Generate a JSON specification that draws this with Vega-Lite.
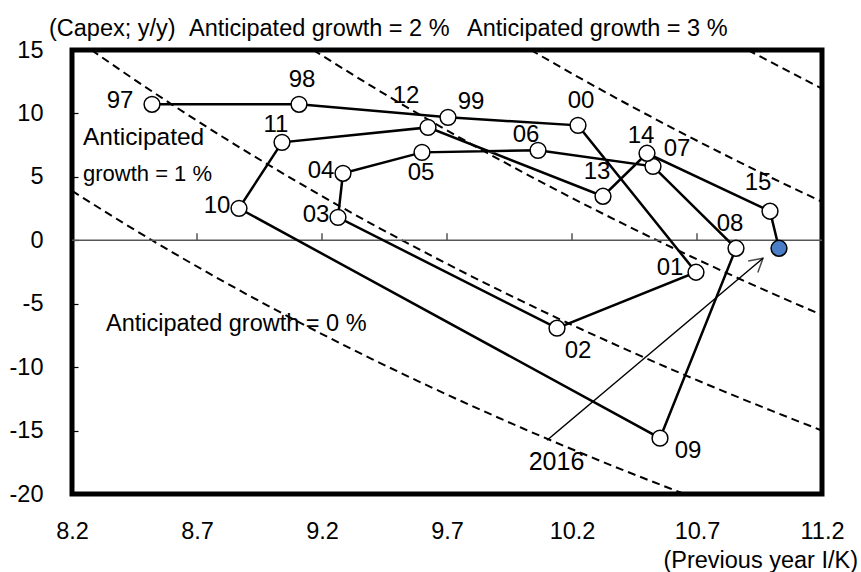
{
  "$schema": "https://vega.github.io/schema/vega-lite/v6.json",
  "width": 750,
  "height": 444,
  "autosize": {"type": "none"},
  "padding": {"left": 72, "top": 50, "right": 39, "bottom": 78},
  "background": "white",
  "config": {
    "view": {"stroke": "black", "strokeWidth": 5},
    "font": "Liberation Sans",
    "text": {"font": "Liberation Sans", "fontSize": 23.5, "color": "black", "baseline": "middle"}
  },
  "datasets": {
    "pts": [
      {"i": 1, "year": "97", "x": 8.52, "y": 10.72},
      {"i": 2, "year": "98", "x": 9.108, "y": 10.72},
      {"i": 3, "year": "99", "x": 9.704, "y": 9.69},
      {"i": 4, "year": "00", "x": 10.224, "y": 9.06},
      {"i": 5, "year": "01", "x": 10.696, "y": -2.52},
      {"i": 6, "year": "02", "x": 10.14, "y": -6.93},
      {"i": 7, "year": "03", "x": 9.264, "y": 1.81},
      {"i": 8, "year": "04", "x": 9.284, "y": 5.28},
      {"i": 9, "year": "05", "x": 9.6, "y": 6.93},
      {"i": 10, "year": "06", "x": 10.064, "y": 7.09},
      {"i": 11, "year": "07", "x": 10.524, "y": 5.83},
      {"i": 12, "year": "08", "x": 10.856, "y": -0.63},
      {"i": 13, "year": "09", "x": 10.552, "y": -15.6},
      {"i": 14, "year": "10", "x": 8.868, "y": 2.52},
      {"i": 15, "year": "11", "x": 9.04, "y": 7.72},
      {"i": 16, "year": "12", "x": 9.624, "y": 8.9},
      {"i": 17, "year": "13", "x": 10.324, "y": 3.47},
      {"i": 18, "year": "14", "x": 10.5, "y": 6.86},
      {"i": 19, "year": "15", "x": 10.992, "y": 2.29},
      {"i": 20, "year": "16", "x": 11.028, "y": -0.63}
    ],
    "curves": [
      {"g": "0", "x": 8.2, "y": 3.9}, {"g": "0", "x": 8.4, "y": 1.43}, {"g": "0", "x": 8.6, "y": -0.93},
      {"g": "0", "x": 8.8, "y": -3.18}, {"g": "0", "x": 9.0, "y": -5.33}, {"g": "0", "x": 9.2, "y": -7.39},
      {"g": "0", "x": 9.4, "y": -9.36}, {"g": "0", "x": 9.6, "y": -11.25}, {"g": "0", "x": 9.8, "y": -13.06},
      {"g": "0", "x": 10.0, "y": -14.8}, {"g": "0", "x": 10.2, "y": -16.47}, {"g": "0", "x": 10.4, "y": -18.08},
      {"g": "0", "x": 10.6, "y": -19.62}, {"g": "0", "x": 10.65, "y": -20.0},
      {"g": "1", "x": 8.278, "y": 15}, {"g": "1", "x": 8.4, "y": 13.33}, {"g": "1", "x": 8.6, "y": 10.7},
      {"g": "1", "x": 8.8, "y": 8.18}, {"g": "1", "x": 9.0, "y": 5.78}, {"g": "1", "x": 9.2, "y": 3.48},
      {"g": "1", "x": 9.4, "y": 1.28}, {"g": "1", "x": 9.6, "y": -0.83}, {"g": "1", "x": 9.8, "y": -2.86},
      {"g": "1", "x": 10.0, "y": -4.8}, {"g": "1", "x": 10.2, "y": -6.67}, {"g": "1", "x": 10.4, "y": -8.46},
      {"g": "1", "x": 10.6, "y": -10.19}, {"g": "1", "x": 10.8, "y": -11.85}, {"g": "1", "x": 11.0, "y": -13.45},
      {"g": "1", "x": 11.2, "y": -15.0},
      {"g": "2", "x": 9.165, "y": 15}, {"g": "2", "x": 9.4, "y": 12.13}, {"g": "2", "x": 9.6, "y": 9.79},
      {"g": "2", "x": 9.8, "y": 7.55}, {"g": "2", "x": 10.0, "y": 5.4}, {"g": "2", "x": 10.2, "y": 3.33},
      {"g": "2", "x": 10.4, "y": 1.35}, {"g": "2", "x": 10.6, "y": -0.57}, {"g": "2", "x": 10.8, "y": -2.41},
      {"g": "2", "x": 11.0, "y": -4.18}, {"g": "2", "x": 11.2, "y": -5.89},
      {"g": "3", "x": 10.035, "y": 15}, {"g": "3", "x": 10.2, "y": 13.14}, {"g": "3", "x": 10.4, "y": 10.96},
      {"g": "3", "x": 10.6, "y": 8.87}, {"g": "3", "x": 10.8, "y": 6.85}, {"g": "3", "x": 11.0, "y": 4.91},
      {"g": "3", "x": 11.2, "y": 3.04},
      {"g": "4", "x": 10.904, "y": 15}, {"g": "4", "x": 11.0, "y": 14.0}, {"g": "4", "x": 11.2, "y": 11.96}
    ]
  },
  "encoding": {
    "x": {"field": "x", "type": "quantitative", "scale": {"domain": [8.2, 11.2], "nice": false, "zero": false},
      "axis": {"values": [8.2, 8.7, 9.2, 9.7, 10.2, 10.7, 11.2], "format": ".1f", "ticks": false, "tickSize": 0, "domain": false, "grid": false,
        "labelFontSize": 23.5, "labelFont": "Liberation Sans", "labelColor": "black", "labelPadding": 37, "labelBaseline": "middle",
        "labelFlush": false, "labelOverlap": false, "title": null}},
    "y": {"field": "y", "type": "quantitative", "scale": {"domain": [-20, 15], "nice": false, "zero": false},
      "axis": {"values": [-20, -15, -10, -5, 0, 5, 10, 15], "ticks": true, "tickSize": 6, "tickColor": "black", "tickWidth": 1.2,
        "offset": -6, "domain": false, "grid": false, "labelFontSize": 23.5, "labelFont": "Liberation Sans", "labelColor": "black",
        "labelExpr": "replace(datum.label, '\u2212', '-')",
        "labelPadding": 29, "labelFlush": false, "labelOverlap": false, "title": null}}
  },
  "layer": [
    {
      "data": {"name": "curves"},
      "mark": {"type": "line", "clip": true, "color": "black", "strokeWidth": 2, "strokeDash": [8, 5], "interpolate": "monotone"},
      "encoding": {"detail": {"field": "g"}}
    },
    {
      "data": {"values": [{"x": 8.2, "x2": 11.2, "y": 0}]},
      "mark": {"type": "rule", "color": "#555555", "strokeWidth": 1.5},
      "encoding": {"x2": {"field": "x2"}}
    },
    {
      "data": {"values": [{"x": 8.7, "y": 0, "y2": 0.55}, {"x": 9.2, "y": 0, "y2": 0.55}, {"x": 9.7, "y": 0, "y2": 0.55}, {"x": 10.2, "y": 0, "y2": 0.55}, {"x": 10.7, "y": 0, "y2": 0.55}]},
      "mark": {"type": "rule", "color": "#555555", "strokeWidth": 1.5},
      "encoding": {"y2": {"field": "y2"}}
    },
    {
      "data": {"name": "pts"},
      "mark": {"type": "line", "color": "black", "strokeWidth": 2.5},
      "encoding": {"order": {"field": "i", "type": "quantitative"}}
    },
    {
      "data": {"values": [{"x": 10.1, "y": -15.76, "x2": 10.964, "y2": -1.42}]},
      "mark": {"type": "rule", "color": "black", "strokeWidth": 1.5},
      "encoding": {"x2": {"field": "x2"}, "y2": {"field": "y2"}}
    },
    {
      "data": {"values": [{"x": 10.964, "y": -1.42}]},
      "mark": {"type": "point", "shape": "M-0.5,0.87L0,0L0.5,0.87", "filled": false, "stroke": "black", "strokeWidth": 1.5, "size": 900, "angle": 50},
      "encoding": {}
    },
    {
      "data": {"values": [
        {"x": 8.108, "y": 16.64, "text": "(Capex; y/y)"},
        {"x": 8.668, "y": 16.64, "text": "Anticipated growth =  2 %"},
        {"x": 9.78, "y": 16.64, "text": "Anticipated growth =  3 %"},
        {"x": 8.336, "y": -6.56, "text": "Anticipated growth =  0 %"}
      ]},
      "mark": {"type": "text", "align": "left", "fontSize": 23.5},
      "encoding": {"text": {"field": "text"}}
    },
    {
      "data": {"values": [{"x": 8.244, "y": 8.09, "text": "Anticipated"}]},
      "mark": {"type": "text", "align": "left", "fontSize": 24.5},
      "encoding": {"text": {"field": "text"}}
    },
    {
      "data": {"values": [{"x": 8.244, "y": 5.22, "text": "growth =  1 %"}]},
      "mark": {"type": "text", "align": "left", "fontSize": 22},
      "encoding": {"text": {"field": "text"}}
    },
    {
      "data": {"values": [{"x": 10.138, "y": -17.48, "text": "2016"}]},
      "mark": {"type": "text", "align": "center", "fontSize": 25},
      "encoding": {"text": {"field": "text"}}
    },
    {
      "data": {"values": [{"x": 11.344, "y": -25.3, "text": "(Previous year I/K)"}]},
      "mark": {"type": "text", "align": "right", "fontSize": 23.5},
      "encoding": {"text": {"field": "text"}}
    },
    {"data": {"name": "pts"}, "transform": [{"filter": {"field": "year", "oneOf": ["97"]}}],
      "mark": {"type": "text", "fontSize": 24, "align": "center", "dx": -32, "dy": -3}, "encoding": {"text": {"field": "year"}}},
    {"data": {"name": "pts"}, "transform": [{"filter": {"field": "year", "oneOf": ["03", "04", "10"]}}],
      "mark": {"type": "text", "fontSize": 24, "align": "center", "dx": -22, "dy": -2}, "encoding": {"text": {"field": "year"}}},
    {"data": {"name": "pts"}, "transform": [{"filter": {"field": "year", "oneOf": ["01"]}}],
      "mark": {"type": "text", "fontSize": 24, "align": "center", "dx": -26, "dy": -4}, "encoding": {"text": {"field": "year"}}},
    {"data": {"name": "pts"}, "transform": [{"filter": {"field": "year", "oneOf": ["98", "00"]}}],
      "mark": {"type": "text", "fontSize": 24, "align": "center", "dx": 3, "dy": -24}, "encoding": {"text": {"field": "year"}}},
    {"data": {"name": "pts"}, "transform": [{"filter": {"field": "year", "oneOf": ["08", "13"]}}],
      "mark": {"type": "text", "fontSize": 24, "align": "center", "dx": -6, "dy": -24}, "encoding": {"text": {"field": "year"}}},
    {"data": {"name": "pts"}, "transform": [{"filter": {"field": "year", "oneOf": ["11", "14"]}}],
      "mark": {"type": "text", "fontSize": 24, "align": "center", "dx": -6, "dy": -17}, "encoding": {"text": {"field": "year"}}},
    {"data": {"name": "pts"}, "transform": [{"filter": {"field": "year", "oneOf": ["06"]}}],
      "mark": {"type": "text", "fontSize": 24, "align": "center", "dx": -12, "dy": -15}, "encoding": {"text": {"field": "year"}}},
    {"data": {"name": "pts"}, "transform": [{"filter": {"field": "year", "oneOf": ["99"]}}],
      "mark": {"type": "text", "fontSize": 24, "align": "center", "dx": 23, "dy": -15}, "encoding": {"text": {"field": "year"}}},
    {"data": {"name": "pts"}, "transform": [{"filter": {"field": "year", "oneOf": ["07"]}}],
      "mark": {"type": "text", "fontSize": 24, "align": "center", "dx": 24, "dy": -17}, "encoding": {"text": {"field": "year"}}},
    {"data": {"name": "pts"}, "transform": [{"filter": {"field": "year", "oneOf": ["02"]}}],
      "mark": {"type": "text", "fontSize": 24, "align": "center", "dx": 21, "dy": 23}, "encoding": {"text": {"field": "year"}}},
    {"data": {"name": "pts"}, "transform": [{"filter": {"field": "year", "oneOf": ["09"]}}],
      "mark": {"type": "text", "fontSize": 24, "align": "center", "dx": 28, "dy": 13}, "encoding": {"text": {"field": "year"}}},
    {"data": {"name": "pts"}, "transform": [{"filter": {"field": "year", "oneOf": ["05"]}}],
      "mark": {"type": "text", "fontSize": 24, "align": "center", "dx": -1, "dy": 21}, "encoding": {"text": {"field": "year"}}},
    {"data": {"name": "pts"}, "transform": [{"filter": {"field": "year", "oneOf": ["12"]}}],
      "mark": {"type": "text", "fontSize": 24, "align": "center", "dx": -22, "dy": -31}, "encoding": {"text": {"field": "year"}}},
    {"data": {"name": "pts"}, "transform": [{"filter": {"field": "year", "oneOf": ["15"]}}],
      "mark": {"type": "text", "fontSize": 24, "align": "center", "dx": -12, "dy": -28}, "encoding": {"text": {"field": "year"}}},
    {
      "data": {"name": "pts"},
      "mark": {"type": "point", "shape": "circle", "filled": true, "stroke": "black", "strokeWidth": 1.5, "size": 250, "opacity": 1},
      "encoding": {
        "fill": {"condition": {"test": "datum.year === '16'", "value": "#4a7ec6"}, "value": "white"}
      }
    }
  ]
}
